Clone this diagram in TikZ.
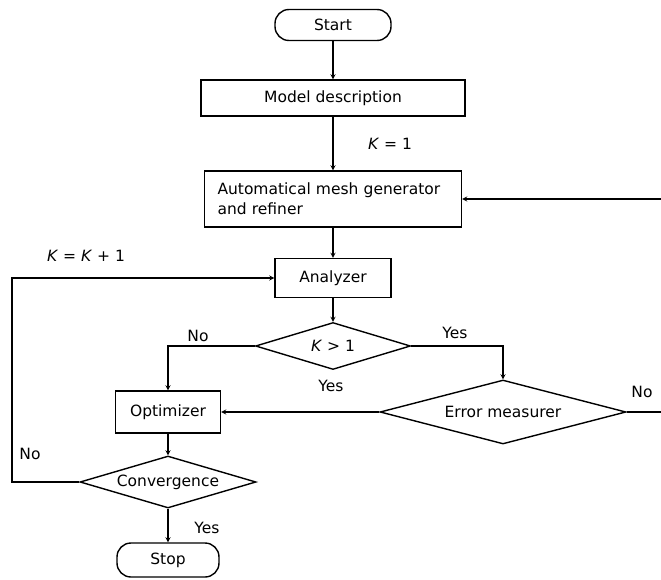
\documentclass[tikz,border=0pt]{standalone}
\usepackage{fontspec}
\setmainfont{DejaVu Sans}
\usetikzlibrary{shapes.geometric}

\begin{document}
\begin{tikzpicture}[
    x=1pt, y=-1pt,
    font=\fontsize{15.5}{20}\selectfont,
    box/.style={draw, line width=1.4pt, inner sep=2pt},
    term/.style={draw, line width=1.4pt, rounded corners=14pt, minimum height=31pt},
    decide/.style={draw, line width=1.4pt, diamond, aspect=4, inner sep=0pt},
    flow/.style={line width=1.2pt, ->, >=stealth}
  ]
  \useasboundingbox (0,0) rectangle (661,580);
  % main column
  \node[term, minimum width=116pt] (start) at (333,25) {Start};
  \node[box, minimum width=264pt, minimum height=36pt] (model) at (333,98) {Model description};
  \node[box, minimum width=257pt, minimum height=56pt, text width=231pt, align=left] (mesh) at (333,199)
    {Automatical mesh generator\\and refiner};
  \node[box, minimum width=116pt, minimum height=39pt] (anal) at (333,278) {Analyzer};
  \node[decide, minimum width=155pt, minimum height=47pt] (kgt) at (333,346) {\textit{K} > 1};
  % branches
  \node[decide, minimum width=246pt, minimum height=64pt] (err) at (503,412) {Error measurer};
  \node[box, minimum width=105pt, minimum height=42pt] (opt) at (168,412) {Optimizer};
  \node[decide, minimum width=176pt, minimum height=52pt] (conv) at (168,482) {Convergence};
  \node[term, minimum width=102pt, minimum height=34pt] (stop) at (168,560) {Stop};
  % labels
  \node (lblKone) at (390,144) {\textit{K} = 1};
  \node (lblKinc) at (86,256) {\textit{K} = \textit{K} + 1};
  \node (lblNoA) at (198,336) {No};
  \node (lblYesA) at (455,333) {Yes};
  \node (lblYesB) at (331,386) {Yes};
  \node (lblNoB) at (642,392) {No};
  \node (lblNoC) at (30,454) {No};
  \node (lblYesC) at (207,528) {Yes};
  % connectors
  \coordinate (loopL) at (12,482);
  \coordinate (loopR) at (672,412);
  \draw[flow] (start) -- (model);
  \draw[flow] (model) -- (mesh);
  \draw[flow] (mesh) -- (anal);
  \draw[flow] (anal) -- (kgt);
  \draw[flow] (kgt.west) -| (opt.north);
  \draw[flow] (kgt.east) -| (err.north);
  \draw[flow] (err.west) -- (opt.east);
  \draw[flow] (opt) -- (conv);
  \draw[flow] (conv) -- (stop);
  \draw[flow] (conv.west) -- (loopL) |- (anal.west);
  \draw[flow] (err.east) -- (loopR) |- (mesh.east);
\end{tikzpicture}
\end{document}
